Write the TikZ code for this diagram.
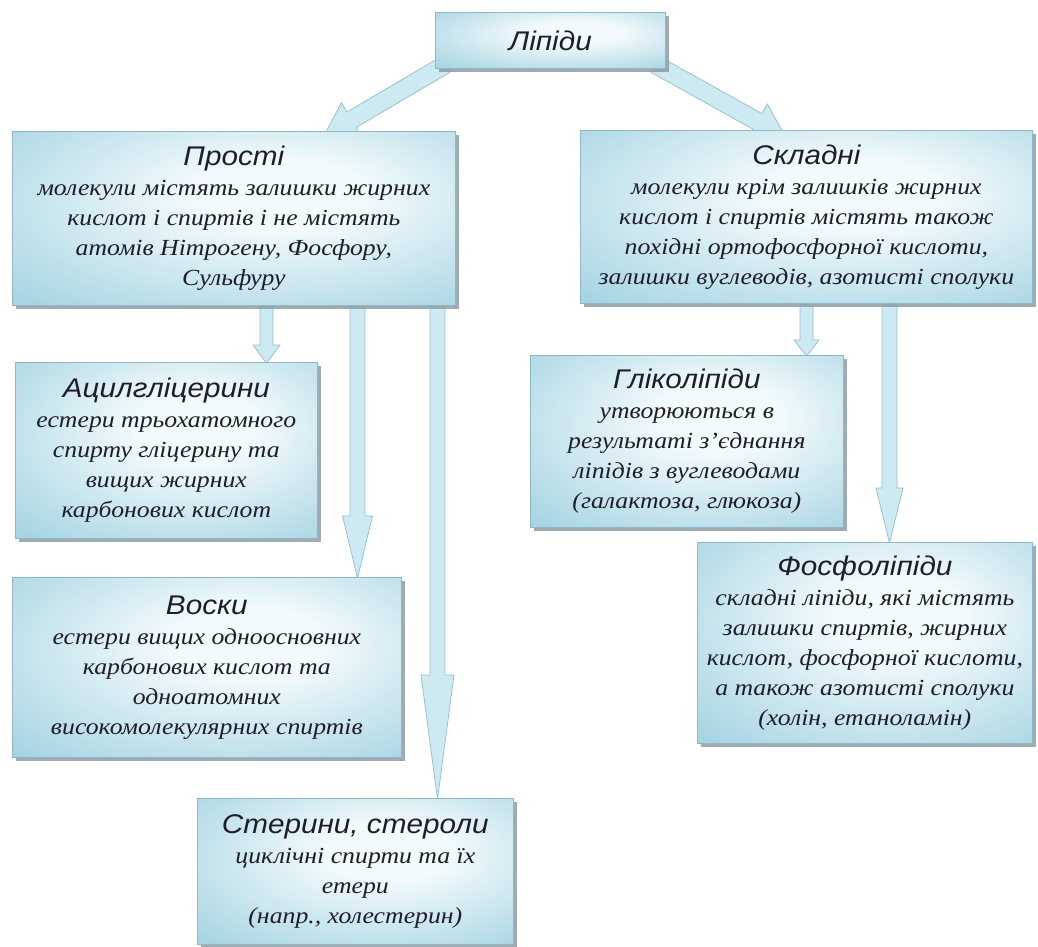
\documentclass[tikz,border=0pt]{standalone}
\usepackage{fontspec}
\setmainfont{Liberation Serif}[FakeStretch=1.12]
\setsansfont{Liberation Sans}[FakeStretch=1.1]
\usepackage{xcolor}
\definecolor{boxedge}{HTML}{8EC8DA}
\definecolor{boxcore}{HTML}{F2FAFC}
\definecolor{boxline}{HTML}{8CB8C9}
\definecolor{boxshadow}{HTML}{8E9CA2}
\definecolor{arrowfill}{HTML}{CDE9F2}
\definecolor{arrowline}{HTML}{8DBFD2}
\definecolor{textdark}{HTML}{1E1E2A}
\usetikzlibrary{arrows.meta,positioning,calc,shadows,backgrounds}

\pgfdeclareradialshading{boxglow}{\pgfpoint{6bp}{8bp}}{color(0bp)=(boxcore); color(10bp)=(boxcore);
  color(48bp)=(boxedge); color(72bp)=(boxedge)}

\newcommand\boxhead{\fontsize{27}{30}\selectfont\sffamily\itshape}
\newcommand\boxnote{\fontsize{23}{30}\selectfont\rmfamily\itshape}

% block arrow: tail, tip, shaft half width, head half width, head length
\newcommand\blockarrow[5]{%
  \path[arrowstyle]
    ($(#1)!#3!90:(#2)$) -- ($($(#2)!#5!(#1)$)!#3!-90:(#1)$)
    -- ($($(#2)!#5!(#1)$)!#4!-90:(#1)$) -- (#2)
    -- ($($(#2)!#5!(#1)$)!#4!90:(#1)$) -- ($($(#2)!#5!(#1)$)!#3!90:(#1)$)
    -- ($(#1)!#3!-90:(#2)$) -- cycle;}

\begin{document}
\begin{tikzpicture}[x=1pt, y=-1pt,
  box/.style={draw=boxline, line width=0.7pt, shading=boxglow,
    drop shadow={shadow xshift=3.5pt, shadow yshift=-3.5pt, fill=boxshadow, opacity=0.85},
    anchor=north west, align=center, inner sep=0pt, text=textdark, font=\boxnote},
  arrowstyle/.style={draw=arrowline, line width=0.7pt, fill=arrowfill}]

  \useasboundingbox (0,0) rectangle (1038,946);

  % boxes
  \node[box, minimum width=230, minimum height=56] (lip) at (435,12) {{\boxhead Ліпіди}};

  \node[box, minimum width=443, minimum height=174] (prosti) at (12,131)
    {{\boxhead Прості}\\ молекули містять залишки жирних\\ кислот і спиртів і не містять\\
     атомів Нітрогену, Фосфору,\\ Сульфуру};
  \node[box, minimum width=452, minimum height=173] (skladni) at (580,130)
    {{\boxhead Складні}\\ молекули крім залишків жирних\\ кислот і спиртів містять також\\
     похідні ортофосфорної кислоти,\\ залишки вуглеводів, азотисті сполуки};

  \node[box, minimum width=302, minimum height=176] (acyl) at (15,362)
    {{\boxhead Ацилгліцерини}\\ естери трьохатомного\\ спирту гліцерину та\\
     вищих жирних\\ карбонових кислот};
  \node[box, minimum width=389, minimum height=180] (voski) at (12,577)
    {{\boxhead Воски}\\ естери вищих одноосновних\\ карбонових кислот та\\
     одноатомних\\ високомолекулярних спиртів};
  \node[box, minimum width=316, minimum height=146] (steryn) at (197,798)
    {{\boxhead Стерини, стероли}\\ циклічні спирти та їх\\ етери\\ (напр., холестерин)};

  \node[box, minimum width=313, minimum height=172] (glik) at (530,355)
    {{\boxhead Гліколіпіди}\\ утворюються в\\ результаті з’єднання\\
     ліпідів з вуглеводами\\ (галактоза, глюкоза)};
  \node[box, minimum width=335, minimum height=201] (fosf) at (697,542)
    {{\boxhead Фосфоліпіди}\\ складні ліпіди, які містять\\ залишки спиртів, жирних\\
     кислот, фосфорної кислоти,\\ а також азотисті сполуки\\ (холін, етаноламін)};

  % x positions of the vertical arrows
  \coordinate (va) at (266.5,0);
  \coordinate (vb) at (357.5,0);
  \coordinate (vc) at (437.5,0);
  \coordinate (vd) at (806.5,0);
  \coordinate (ve) at (889.5,0);

  % arrows
  \begin{scope}[on background layer]
    \blockarrow{$(lip.south west)+(10,-4)$}{$(prosti.north west)!0.703!(prosti.north east)+(0,5)$}{9pt}{20pt}{32pt}
    \blockarrow{$(lip.south east)+(-10,-4)$}{$(skladni.north west)!0.454!(skladni.north east)+(0,7)$}{9pt}{20pt}{32pt}
    \blockarrow{$(prosti.south -| va)+(0,-4)$}{$(acyl.north -| va)+(0,1)$}{6.5pt}{13.5pt}{18pt}
    \blockarrow{$(prosti.south -| vb)+(0,-4)$}{$(voski.north -| vb)+(0,1)$}{7.5pt}{15pt}{62pt}
    \blockarrow{$(prosti.south -| vc)+(0,-4)$}{$(steryn.north -| vc)+(0,1)$}{7.5pt}{16.5pt}{124pt}
    \blockarrow{$(skladni.south -| vd)+(0,-4)$}{$(glik.north -| vd)+(0,1)$}{6.5pt}{12.5pt}{16pt}
    \blockarrow{$(skladni.south -| ve)+(0,-4)$}{$(fosf.north -| ve)+(0,1)$}{7.5pt}{13.5pt}{55pt}
  \end{scope}

\end{tikzpicture}
\end{document}
